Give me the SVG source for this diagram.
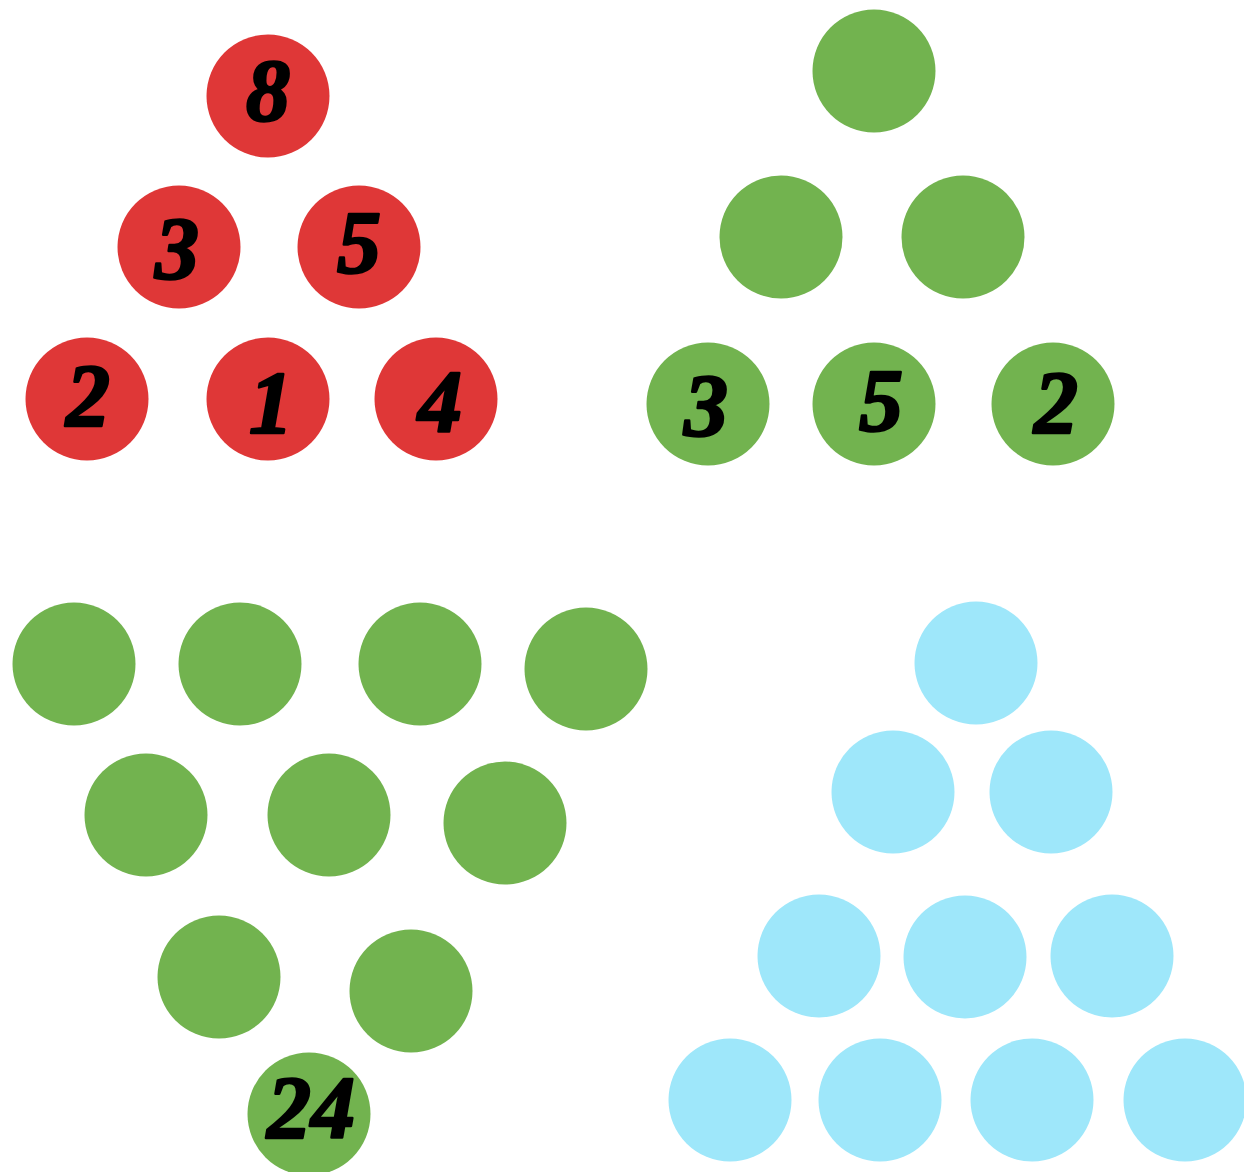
<svg xmlns="http://www.w3.org/2000/svg" width="1244" height="1172" viewBox="0 0 1244 1172">
<style>
.r{fill:#DF3737}
.g{fill:#72B34F}
.b{fill:#9EE7FA}
.t{font-family:"Liberation Serif","DejaVu Serif",serif;font-weight:bold;font-style:italic;font-size:88px;fill:#000;stroke:#000;stroke-width:2.5px;stroke-linejoin:round;text-anchor:middle;dominant-baseline:central}
</style>
<rect width="1244" height="1172" fill="#fff"/>
<g id="red-8"><circle class="r" cx="268" cy="96" r="61.5"/><text class="t" x="268" y="90">8</text></g>
<g id="red-3"><circle class="r" cx="179" cy="247" r="61.5"/><text class="t" x="177" y="248">3</text></g>
<g id="red-5"><circle class="r" cx="359" cy="247" r="61.5"/><text class="t" x="359" y="242">5</text></g>
<g id="red-2"><circle class="r" cx="87" cy="399" r="61.5"/><text class="t" x="88" y="395">2</text></g>
<g id="red-1"><circle class="r" cx="268" cy="399" r="61.5"/><text class="t" x="271" y="402">1</text></g>
<g id="red-4"><circle class="r" cx="436" cy="399" r="61.5"/><text class="t" x="440" y="401">4</text></g>

<g id="gt-1"><circle class="g" cx="874" cy="71" r="61.5"/></g>
<g id="gt-2"><circle class="g" cx="781" cy="237" r="61.5"/></g>
<g id="gt-3"><circle class="g" cx="963" cy="237" r="61.5"/></g>
<g id="gt-4"><circle class="g" cx="708" cy="404" r="61.5"/><text class="t" x="706" y="405">3</text></g>
<g id="gt-5"><circle class="g" cx="874" cy="404" r="61.5"/><text class="t" x="881" y="400">5</text></g>
<g id="gt-6"><circle class="g" cx="1053" cy="404" r="61.5"/><text class="t" x="1056" y="402">2</text></g>

<g id="gb-1"><circle class="g" cx="74" cy="664" r="61.5"/></g>
<g id="gb-2"><circle class="g" cx="240" cy="664" r="61.5"/></g>
<g id="gb-3"><circle class="g" cx="420" cy="664" r="61.5"/></g>
<g id="gb-4"><circle class="g" cx="586" cy="669" r="61.5"/></g>
<g id="gb-5"><circle class="g" cx="146" cy="815" r="61.5"/></g>
<g id="gb-6"><circle class="g" cx="329" cy="815" r="61.5"/></g>
<g id="gb-7"><circle class="g" cx="505" cy="823" r="61.5"/></g>
<g id="gb-8"><circle class="g" cx="219" cy="977" r="61.5"/></g>
<g id="gb-9"><circle class="g" cx="411" cy="991" r="61.5"/></g>
<g id="gb-24"><circle class="g" cx="309" cy="1114" r="61.5"/><text class="t" x="311" y="1107">24</text></g>

<g id="b-1"><circle class="b" cx="976" cy="663" r="61.5"/></g>
<g id="b-2"><circle class="b" cx="893" cy="792" r="61.5"/></g>
<g id="b-3"><circle class="b" cx="1051" cy="792" r="61.5"/></g>
<g id="b-4"><circle class="b" cx="819" cy="956" r="61.5"/></g>
<g id="b-5"><circle class="b" cx="965" cy="957" r="61.5"/></g>
<g id="b-6"><circle class="b" cx="1112" cy="956" r="61.5"/></g>
<g id="b-7"><circle class="b" cx="730" cy="1100" r="61.5"/></g>
<g id="b-8"><circle class="b" cx="880" cy="1100" r="61.5"/></g>
<g id="b-9"><circle class="b" cx="1032" cy="1100" r="61.5"/></g>
<g id="b-10"><circle class="b" cx="1185" cy="1100" r="61.5"/></g>
<g id="connectors"></g>
</svg>
